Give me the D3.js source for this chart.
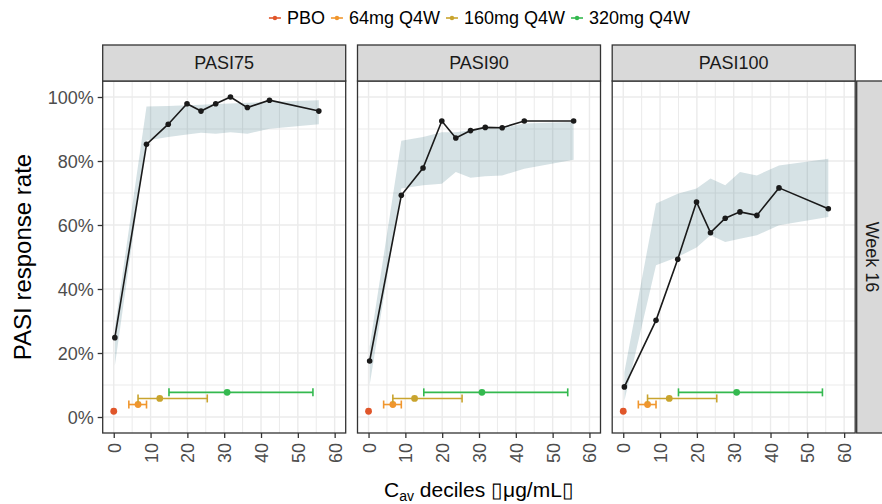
<!DOCTYPE html>
<html>
<head>
<meta charset="utf-8">
<script src="https://cdn.jsdelivr.net/npm/d3@7"></script>
<style>
  body { margin: 0; background: #fff; }
  svg { display: block; font-family: "Liberation Sans", Arial, Helvetica, sans-serif; }
</style>
</head>
<body>
<div id="chart"></div>
<script>
// Data
const panelNames = ["PASI75", "PASI90", "PASI100"];
const rowLabel = "Week 16";

// decile midpoints of Cav (µg/mL)
const decileX = [0.3, 8.9, 14.8, 19.9, 23.7, 27.7, 31.7, 36.3, 42.3, 55.7];

// observed response rate (%) per decile
const pasi75 = [24.8, 85.2, 91.5, 97.9, 95.6, 97.9, 100, 96.7, 99.0, 95.6];
const pasi90 = [17.5, 69.3, 77.8, 92.5, 87.2, 89.5, 90.5, 90.4, 92.5, 92.5];
const pasi100 = [9.4, 30.2, 49.3, 67.2, 57.6, 62.1, 64.1, 63.0, 71.6, 65.1];

// model prediction band (%)
const pasi75Lo = [16, 86.4, 87.5, 88.3, 88.8, 88.5, 89.0, 88.5, 90.1, 91.5];
const pasi75Hi = [28, 97.0, 97.2, 97.4, 97.6, 97.8, 98.0, 98.2, 98.5, 99.0];
const pasi90Lo = [10, 71.4, 72.4, 72.9, 76.6, 74.8, 75.2, 75.5, 77.6, 80.4];
const pasi90Hi = [22, 86.3, 87.5, 89.0, 89.0, 89.6, 90.1, 90.4, 91.7, 92.2];
const pasi100Lo = [5, 47.4, 50.0, 53.0, 56.8, 54.7, 55.7, 56.8, 59.9, 62.5];
const pasi100Hi = [14, 66.7, 69.8, 71.4, 74.5, 72.4, 76.6, 75.5, 78.6, 80.7];

// dose groups: exposure median and range, drawn near the bottom
const doses = ["PBO", "64mg Q4W", "160mg Q4W", "320mg Q4W"];
const doseColors = ["#e0562a", "#f0962e", "#c9a42e", "#34b94f"];
const doseMid = [0, 6.6, 12.5, 30.8];
const doseLo = [0, 4.1, 6.6, 15.0];
const doseHi = [0, 8.9, 25.4, 54.1];
const doseY = [1.8, 3.9, 5.8, 7.7];

const xTicks = [0, 10, 20, 30, 40, 50, 60];
const yTicks = [0, 20, 40, 60, 80, 100];

const observed = [pasi75, pasi90, pasi100];
const bandLo = [pasi75Lo, pasi90Lo, pasi100Lo];
const bandHi = [pasi75Hi, pasi90Hi, pasi100Hi];

// Layout
const W = 882, H = 504;
const panelLeft = [102.7, 357.5, 612.2];
const panelW = 243, panelTop = 81, panelH = 352;
const stripTop = 45;
const gridCol = "#ebebeb";
const borderCol = "#333333";

const svg = d3.select("#chart").append("svg")
  .attr("width", W).attr("height", H);

const x = d3.scaleLinear().domain([-3, 63]).range([0, panelW]);
const y = d3.scaleLinear().domain([-5, 105]).range([panelH, 0]);

panelNames.forEach((name, p) => {
  const g = svg.append("g").attr("transform", `translate(${panelLeft[p]},${panelTop})`);

  // grid: minor + major
  const vx = d3.range(0, 61, 5);
  const hy = d3.range(0, 101, 10);
  g.selectAll(".vg").data(vx).enter().append("line")
    .attr("x1", d => x(d)).attr("x2", d => x(d))
    .attr("y1", 0).attr("y2", panelH)
    .attr("stroke", gridCol).attr("stroke-width", d => d % 10 === 0 ? 1.4 : 1);
  g.selectAll(".hg").data(hy).enter().append("line")
    .attr("y1", d => y(d)).attr("y2", d => y(d))
    .attr("x1", 0).attr("x2", panelW)
    .attr("stroke", gridCol).attr("stroke-width", d => d % 20 === 0 ? 1.4 : 1);

  // band
  const band = decileX.map((d, i) => ({ x: d, lo: bandLo[p][i], hi: bandHi[p][i] }));
  g.append("path").datum(band)
    .attr("fill", "#326e7d").attr("fill-opacity", 0.2)
    .attr("d", d3.area().x(d => x(d.x)).y0(d => y(d.lo)).y1(d => y(d.hi)));

  // observed line + points
  const obs = decileX.map((d, i) => ({ x: d, v: observed[p][i] }));
  g.append("path").datum(obs)
    .attr("fill", "none").attr("stroke", "#1a1a1a").attr("stroke-width", 1.6)
    .attr("d", d3.line().x(d => x(d.x)).y(d => y(d.v)));
  g.selectAll(".pt").data(obs).enter().append("circle")
    .attr("cx", d => x(d.x)).attr("cy", d => y(d.v)).attr("r", 2.8)
    .attr("fill", "#1a1a1a");

  // dose exposure ranges
  doses.forEach((dose, i) => {
    const c = doseColors[i];
    if (doseHi[i] > doseLo[i]) {
      g.append("line")
        .attr("x1", x(doseLo[i])).attr("x2", x(doseHi[i]))
        .attr("y1", y(doseY[i])).attr("y2", y(doseY[i]))
        .attr("stroke", c).attr("stroke-width", 1.6);
      [doseLo[i], doseHi[i]].forEach(v => {
        g.append("line")
          .attr("x1", x(v)).attr("x2", x(v))
          .attr("y1", y(doseY[i]) - 4).attr("y2", y(doseY[i]) + 4)
          .attr("stroke", c).attr("stroke-width", 1.6);
      });
    }
    g.append("circle")
      .attr("cx", x(doseMid[i])).attr("cy", y(doseY[i])).attr("r", 3.4)
      .attr("fill", c);
  });

  // panel border
  g.append("rect").attr("width", panelW).attr("height", panelH)
    .attr("fill", "none").attr("stroke", borderCol).attr("stroke-width", 1.3);

  // strip on top
  g.append("rect").attr("x", 0).attr("y", stripTop - panelTop)
    .attr("width", panelW).attr("height", panelTop - stripTop)
    .attr("fill", "#d9d9d9").attr("stroke", borderCol).attr("stroke-width", 1.3);
  g.append("text")
    .attr("x", panelW / 2).attr("y", (stripTop - panelTop) / 2)
    .attr("dy", "0.36em").attr("text-anchor", "middle")
    .attr("font-size", 18).attr("fill", "#1a1a1a")
    .text(name);

  // x axis
  const xa = g.append("g").attr("transform", `translate(0,${panelH})`)
    .call(d3.axisBottom(x).tickValues(xTicks).tickSize(5).tickFormat(d3.format("d")));
  xa.select(".domain").remove();
  xa.selectAll(".tick line").attr("stroke", borderCol).attr("stroke-width", 1.3);
  xa.selectAll(".tick text")
    .attr("transform", "rotate(-90)")
    .attr("x", -10).attr("y", 0).attr("dy", "0.36em")
    .attr("text-anchor", "end")
    .attr("font-size", 18).attr("fill", "#4d4d4d")
    .attr("font-family", "Liberation Sans, Arial, sans-serif");

  if (p === 0) {
    const ya = g.append("g")
      .call(d3.axisLeft(y).tickValues(yTicks).tickSize(5).tickFormat(d => d + "%"));
    ya.select(".domain").remove();
    ya.selectAll(".tick line").attr("stroke", borderCol).attr("stroke-width", 1.3);
    ya.selectAll(".tick text")
      .attr("x", -9).attr("dy", "0.36em")
      .attr("font-size", 18).attr("fill", "#4d4d4d")
      .attr("font-family", "Liberation Sans, Arial, sans-serif");
  }
});

// right strip
const rsx = panelLeft[2] + panelW + 1.5;
svg.append("rect").attr("x", rsx).attr("y", panelTop)
  .attr("width", 32).attr("height", panelH)
  .attr("fill", "#d9d9d9").attr("stroke", borderCol).attr("stroke-width", 1.3);
svg.append("text")
  .attr("transform", `translate(${rsx + 16},${panelTop + panelH / 2}) rotate(90)`)
  .attr("dy", "0.36em").attr("text-anchor", "middle")
  .attr("font-size", 18).attr("fill", "#1a1a1a")
  .text(rowLabel);

// axis titles
svg.append("text")
  .attr("transform", `translate(30.5,${panelTop + panelH / 2}) rotate(-90)`)
  .attr("text-anchor", "middle")
  .attr("font-size", 24).attr("fill", "#000")
  .text("PASI response rate");

const xt = svg.append("text")
  .attr("x", (panelLeft[0] + panelLeft[2] + panelW) / 2).attr("y", 497)
  .attr("text-anchor", "middle")
  .attr("font-size", 21).attr("fill", "#000");
xt.append("tspan").text("C");
xt.append("tspan").attr("font-size", 14).attr("dy", 4).text("av");
xt.append("tspan").attr("dy", -4).text(" deciles \u25AFμg/mL\u25AF");

// legend
const leg = svg.append("g");
let lx = 0;
doses.forEach((dose, i) => {
  const it = leg.append("g").attr("transform", `translate(${lx},0)`);
  it.append("line").attr("x1", 0).attr("x2", 12).attr("y1", 0).attr("y2", 0)
    .attr("stroke", doseColors[i]).attr("stroke-width", 1.6);
  it.append("circle").attr("cx", 6).attr("cy", 0).attr("r", 2.2).attr("fill", doseColors[i]);
  const t = it.append("text").attr("x", 18).attr("dy", "0.36em")
    .attr("font-size", 18).attr("fill", "#000").text(dose);
  lx += 18 + t.node().getComputedTextLength() + 6;
});
const legW = lx - 6;
leg.attr("transform", `translate(${479.5 - legW / 2},18)`);
</script>
</body>
</html>
